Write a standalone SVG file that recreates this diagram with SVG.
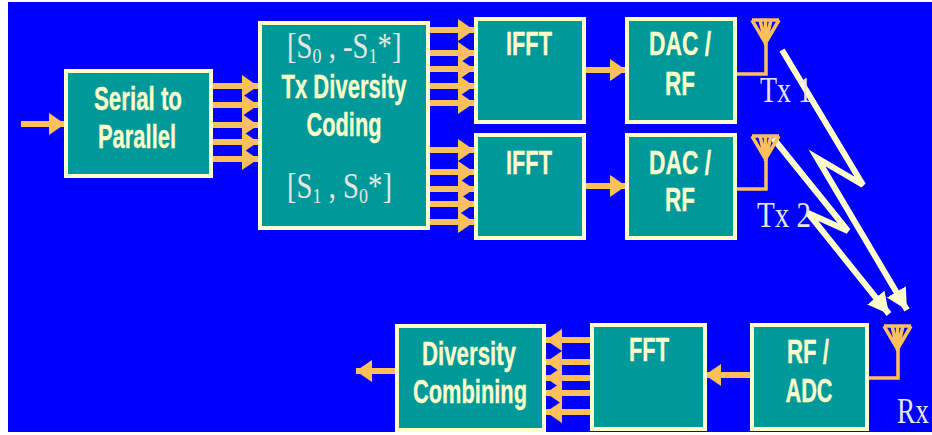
<svg xmlns="http://www.w3.org/2000/svg" width="932" height="435" viewBox="0 0 932 435">
<style>
.box{fill:#009999;stroke:#FFFFCC;stroke-width:4}
.t{font-family:"Liberation Sans",Arial,sans-serif;font-weight:bold;font-size:33px;fill:#FFFFCC;text-anchor:middle;stroke:#FFFFCC;stroke-width:.3}
.s{font-family:"Liberation Serif","Times New Roman",serif;font-size:35px;fill:#E6E6E6}
.b{fill:none;stroke:#FFFFCC;stroke-width:6;stroke-linejoin:miter}
.a{fill:none;stroke:#FFC05C;stroke-width:6}
.l{fill:none;stroke:#FFC05C;stroke-width:3.5}
.ant{fill:none;stroke:#FFC05C;stroke-width:3.5}
</style>
<defs>
<marker id="ah" markerUnits="userSpaceOnUse" markerWidth="18" markerHeight="24" refX="16" refY="11" orient="auto"><polygon points="0,0 16,11 0,22" fill="#FFC05C"/></marker>
<marker id="wh" markerUnits="userSpaceOnUse" markerWidth="26" markerHeight="26" refX="21" refY="11" orient="auto"><polygon points="0,0 21,11 0,22" fill="#FFFFCC"/></marker>
<symbol id="antenna" overflow="visible"><path class="ant" d="M0,0H27M0,0L13.5,23L27,0M8,0L13.5,23L19,0M13.5,0V25"/></symbol>
</defs>
<rect x="0" y="0" width="932" height="435" fill="#fff"/>
<rect x="8" y="2" width="924" height="430" fill="#0000FF"/>
<g id="connectors">
<path class="a" marker-end="url(#ah)" d="M21,124H65"/>
<path class="a" marker-end="url(#ah)" d="M213,86H258"/>
<path class="a" marker-end="url(#ah)" d="M213,105H258"/>
<path class="a" marker-end="url(#ah)" d="M213,125H258"/>
<path class="a" marker-end="url(#ah)" d="M213,142H258"/>
<path class="a" marker-end="url(#ah)" d="M213,159H258"/>
<path class="a" marker-end="url(#ah)" d="M429,30H474"/>
<path class="a" marker-end="url(#ah)" d="M429,53H474"/>
<path class="a" marker-end="url(#ah)" d="M429,69H474"/>
<path class="a" marker-end="url(#ah)" d="M429,86H474"/>
<path class="a" marker-end="url(#ah)" d="M429,103H474"/>
<path class="a" marker-end="url(#ah)" d="M429,150H474"/>
<path class="a" marker-end="url(#ah)" d="M429,172H474"/>
<path class="a" marker-end="url(#ah)" d="M429,189H474"/>
<path class="a" marker-end="url(#ah)" d="M429,204H474"/>
<path class="a" marker-end="url(#ah)" d="M429,222H474"/>
<path class="a" marker-end="url(#ah)" d="M584,70H626"/>
<path class="a" marker-end="url(#ah)" d="M584,186H626"/>
<path class="a" marker-end="url(#ah)" d="M591,340H546"/>
<path class="a" marker-end="url(#ah)" d="M591,362H546"/>
<path class="a" marker-end="url(#ah)" d="M591,378H546"/>
<path class="a" marker-end="url(#ah)" d="M591,393H546"/>
<path class="a" marker-end="url(#ah)" d="M591,412H546"/>
<path class="a" marker-end="url(#ah)" d="M750,375H705"/>
<path class="a" marker-end="url(#ah)" d="M395,371H356"/>
<path class="l" d="M735,74H766V43"/>
<path class="l" d="M735,189H766V157"/>
<path class="l" d="M867,378H898V348"/>
<path class="b" marker-end="url(#wh)" d="M782,50L863,185L817,158L907,310"/>
<path class="b" marker-end="url(#wh)" d="M773,138L848,231L808,213L889,314"/>
</g>
<g id="serial"><rect class="box" x="66" y="71" width="145" height="105"/><text class="t" textLength="88" lengthAdjust="spacingAndGlyphs" x="138" y="110">Serial to</text><text class="t" textLength="78" lengthAdjust="spacingAndGlyphs" x="137" y="148">Parallel</text></g>
<g id="coding"><rect class="box" x="260" y="23" width="168" height="205"/>
<text class="s" transform="translate(287,58) scale(.82,1)">[S<tspan font-size="22" dy="5">0</tspan><tspan dy="-5"> , -S</tspan><tspan font-size="22" dy="5">1</tspan><tspan dy="-5">*]</tspan></text>
<text class="t" textLength="125" lengthAdjust="spacingAndGlyphs" x="344" y="98">Tx Diversity</text><text class="t" textLength="75" lengthAdjust="spacingAndGlyphs" x="344" y="136">Coding</text>
<text class="s" transform="translate(287,198) scale(.82,1)">[S<tspan font-size="22" dy="5">1</tspan><tspan dy="-5"> ,  S</tspan><tspan font-size="22" dy="5">0</tspan><tspan dy="-5">*]</tspan></text></g>
<g id="ifft1"><rect class="box" x="476" y="19" width="108" height="103"/><text class="t" textLength="46" lengthAdjust="spacingAndGlyphs" x="529" y="55">IFFT</text></g>
<g id="ifft2"><rect class="box" x="476" y="135" width="108" height="103"/><text class="t" textLength="46" lengthAdjust="spacingAndGlyphs" x="529" y="174">IFFT</text></g>
<g id="dac1"><rect class="box" x="627" y="19" width="108" height="103"/><text class="t" textLength="62" lengthAdjust="spacingAndGlyphs" x="680" y="55">DAC /</text><text class="t" textLength="30" lengthAdjust="spacingAndGlyphs" x="680" y="95">RF</text></g>
<g id="dac2"><rect class="box" x="627" y="135" width="108" height="103"/><text class="t" textLength="62" lengthAdjust="spacingAndGlyphs" x="680" y="174">DAC /</text><text class="t" textLength="30" lengthAdjust="spacingAndGlyphs" x="680" y="211">RF</text></g>
<g id="ant1"><use href="#antenna" x="752" y="20"/><text class="s" x="760" y="102" textLength="52" lengthAdjust="spacingAndGlyphs">Tx 1</text></g>
<g id="ant2"><use href="#antenna" x="752" y="136"/><text class="s" x="757" y="227" textLength="54" lengthAdjust="spacingAndGlyphs">Tx 2</text></g>
<g id="rf"><rect class="box" x="752" y="325" width="115" height="104"/><text class="t" textLength="42" lengthAdjust="spacingAndGlyphs" x="808" y="363">RF /</text><text class="t" textLength="47" lengthAdjust="spacingAndGlyphs" x="809" y="402">ADC</text></g>
<g id="rxant"><use href="#antenna" x="884" y="326"/><text class="s" transform="translate(897,423) scale(.78,1)">Rx</text></g>
<g id="fft"><rect class="box" x="592" y="325" width="113" height="104"/><text class="t" textLength="40" lengthAdjust="spacingAndGlyphs" x="649" y="361">FFT</text></g>
<g id="combining"><rect class="box" x="397" y="326" width="147" height="104"/><text class="t" textLength="94" lengthAdjust="spacingAndGlyphs" x="469" y="365">Diversity</text><text class="t" textLength="114" lengthAdjust="spacingAndGlyphs" x="470" y="403">Combining</text></g>
</svg>
